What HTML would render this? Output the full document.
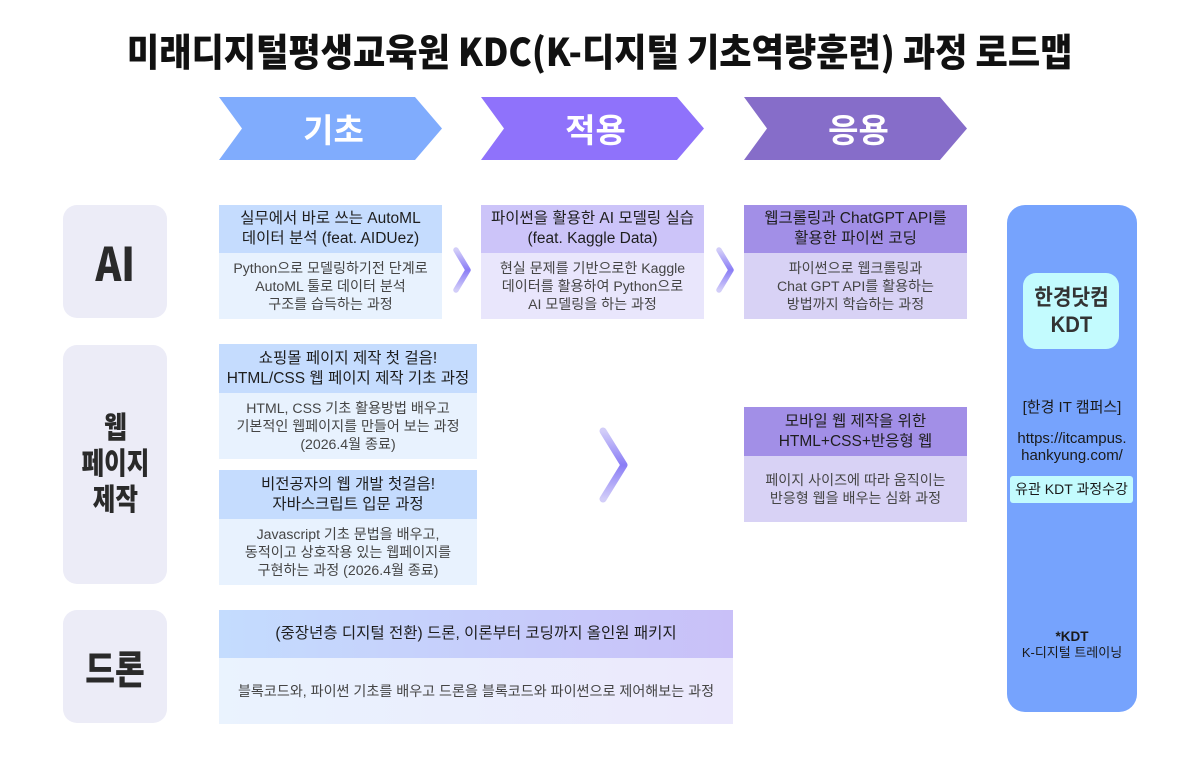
<!DOCTYPE html>
<html><head><meta charset="utf-8"><style>
*{margin:0;padding:0;box-sizing:border-box}
body{width:1200px;height:775px;background:#fff;position:relative;overflow:hidden;font-family:"Liberation Sans","Noto Sans CJK KR",sans-serif;color:#222}
.abs{position:absolute}
.title{position:absolute;left:0;top:27px;width:1200px;text-align:center;font-family:"Noto Sans CJK KR",sans-serif;font-weight:900;font-size:38px;line-height:46px;color:#111;white-space:nowrap}
.title span{display:inline-block;transform:scaleX(0.924);transform-origin:center}
.chev{position:absolute;top:97px;height:63px;width:223px;color:#fff;font-family:"Noto Sans CJK KR",sans-serif;font-weight:700;font-size:33px;line-height:63px;text-align:center;padding-left:6px}
.lab{position:absolute;left:63px;width:104px;background:#ececf7;border-radius:14px;display:flex;align-items:center;justify-content:center;text-align:center;font-family:"Noto Sans CJK KR",sans-serif;font-weight:900;color:#2a2a2a}
.lab span{display:inline-block}
.box{position:absolute}
.hd{display:flex;align-items:center;justify-content:center;text-align:center;font-size:15.5px;line-height:20px;color:#1e1e1e;white-space:nowrap}
.bd{display:flex;align-items:center;justify-content:center;text-align:center;font-size:14.1px;line-height:18px;color:#454545;white-space:nowrap}
.c1 .hd{background:#c5dcfe}.c1 .bd{background:#e8f2fe}
.c2 .hd{background:#ccc4f9}.c2 .bd{background:#e9e6fc}
.c3 .hd{background:#a28fe7}.c3 .bd{background:#d8d2f5}
.panel{position:absolute;left:1007px;top:205px;width:130px;height:507px;background:#76a3fd;border-radius:18px}
.ptxt{position:absolute;left:1007px;width:130px;text-align:center;white-space:nowrap;color:#1a1a1a}
</style></head><body>

<div class="title"><span>미래디지털평생교육원 KDC(K-디지털 기초역량훈련) 과정 로드맵</span></div>

<svg class="abs" style="left:0;top:0" width="1200" height="775">
<defs>
<linearGradient id="ag" x1="0" y1="0" x2="0" y2="1">
<stop offset="0" stop-color="#d2cdf8"/>
<stop offset="0.5" stop-color="#8a7df6"/>
<stop offset="1" stop-color="#d2cdf8"/>
</linearGradient>
</defs>
<polygon points="219,97 415,97 442,128.5 415,160 219,160 242,128.5" fill="#80acfd"/>
<polygon points="481,97 677,97 704,128.5 677,160 481,160 504,128.5" fill="#8f72fb"/>
<polygon points="744,97 940,97 967,128.5 940,160 744,160 767,128.5" fill="#866dc9"/>
<polyline points="456,250 468,270 456,290" fill="none" stroke="url(#ag)" stroke-width="5.5" stroke-linecap="round" stroke-linejoin="round"/>
<polyline points="719,250 731,270 719,290" fill="none" stroke="url(#ag)" stroke-width="5.5" stroke-linecap="round" stroke-linejoin="round"/>
<polyline points="603,431 624,465 603,499" fill="none" stroke="url(#ag)" stroke-width="7" stroke-linecap="round" stroke-linejoin="round"/>
</svg>

<div class="chev" style="left:219px">기초</div>
<div class="chev" style="left:481px">적용</div>
<div class="chev" style="left:744px">응용</div>

<div class="lab" style="top:205px;height:113px;font-size:46px"><span style="transform:scaleX(0.85)">AI</span></div>
<div class="lab" style="top:345px;height:239px;font-size:30px;line-height:36px;padding-bottom:8px"><span style="transform:scaleX(0.82)">웹<br>페이지<br>제작</span></div>
<div class="lab" style="top:610px;height:113px;font-size:38px"><span style="transform:scaleX(0.85)">드론</span></div>

<!-- AI row -->
<div class="box c1" style="left:219px;top:205px;width:223px">
<div class="hd" style="height:48px">실무에서 바로 쓰는 AutoML<br>데이터 분석 (feat. AIDUez)</div>
<div class="bd" style="height:66px">Python으로 모델링하기전 단계로<br>AutoML 툴로 데이터 분석<br>구조를 습득하는 과정</div>
</div>
<div class="box c2" style="left:481px;top:205px;width:223px">
<div class="hd" style="height:48px">파이썬을 활용한 AI 모델링 실습<br>(feat. Kaggle Data)</div>
<div class="bd" style="height:66px">현실 문제를 기반으로한 Kaggle<br>데이터를 활용하여 Python으로<br>AI 모델링을 하는 과정</div>
</div>
<div class="box c3" style="left:744px;top:205px;width:223px">
<div class="hd" style="height:48px">웹크롤링과 ChatGPT API를<br>활용한 파이썬 코딩</div>
<div class="bd" style="height:66px">파이썬으로 웹크롤링과<br>Chat GPT API를 활용하는<br>방법까지 학습하는 과정</div>
</div>

<!-- Web row -->
<div class="box c1" style="left:219px;top:344px;width:258px">
<div class="hd" style="height:49px">쇼핑몰 페이지 제작 첫 걸음!<br>HTML/CSS 웹 페이지 제작 기초 과정</div>
<div class="bd" style="height:66px">HTML, CSS 기초 활용방법 배우고<br>기본적인 웹페이지를 만들어 보는 과정<br>(2026.4월 종료)</div>
</div>
<div class="box c1" style="left:219px;top:470px;width:258px">
<div class="hd" style="height:49px">비전공자의 웹 개발 첫걸음!<br>자바스크립트 입문 과정</div>
<div class="bd" style="height:66px">Javascript 기초 문법을 배우고,<br>동적이고 상호작용 있는 웹페이지를<br>구현하는 과정 (2026.4월 종료)</div>
</div>
<div class="box c3" style="left:744px;top:407px;width:223px">
<div class="hd" style="height:49px">모바일 웹 제작을 위한<br>HTML+CSS+반응형 웹</div>
<div class="bd" style="height:66px">페이지 사이즈에 따라 움직이는<br>반응형 웹을 배우는 심화 과정</div>
</div>

<!-- Drone row -->
<div class="box" style="left:219px;top:610px;width:514px">
<div class="hd" style="height:48px;background:linear-gradient(90deg,#c4dcfe,#c9c0f8)">(중장년층 디지털 전환) 드론, 이론부터 코딩까지 올인원 패키지</div>
<div class="bd" style="height:66px;background:linear-gradient(90deg,#eaf3fe,#ebe8fc)">블록코드와, 파이썬 기초를 배우고 드론을 블록코드와 파이썬으로 제어해보는 과정</div>
</div>

<!-- Right panel -->
<div class="panel"></div>
<div class="abs" style="left:1023px;top:273px;width:96px;height:76px;background:#c3fbfe;border-radius:13px;display:flex;align-items:center;justify-content:center;text-align:center;font-family:'Liberation Sans','Noto Sans CJK KR',sans-serif;font-weight:700;font-size:22px;line-height:27px;color:#333">
<span style="display:inline-block;transform:scaleX(0.92)">한경닷컴<br>KDT</span></div>
<div class="ptxt" style="top:398px;font-size:15px;line-height:20px">[한경 IT 캠퍼스]</div>
<div class="ptxt" style="top:430px;font-size:15px;line-height:17px">https://itcampus.<br>hankyung.com/</div>
<div class="abs" style="left:1010px;top:476px;width:123px;height:27px;background:#c3fbfe;border-radius:3px;text-align:center;font-size:14px;line-height:27px;color:#1a1a1a;white-space:nowrap">유관 KDT 과정수강</div>
<div class="ptxt" style="top:629px;font-size:13.5px;line-height:16px;font-weight:700">*KDT</div>
<div class="ptxt" style="top:645px;font-size:13px;line-height:16px">K-디지털 트레이닝</div>

</body></html>
